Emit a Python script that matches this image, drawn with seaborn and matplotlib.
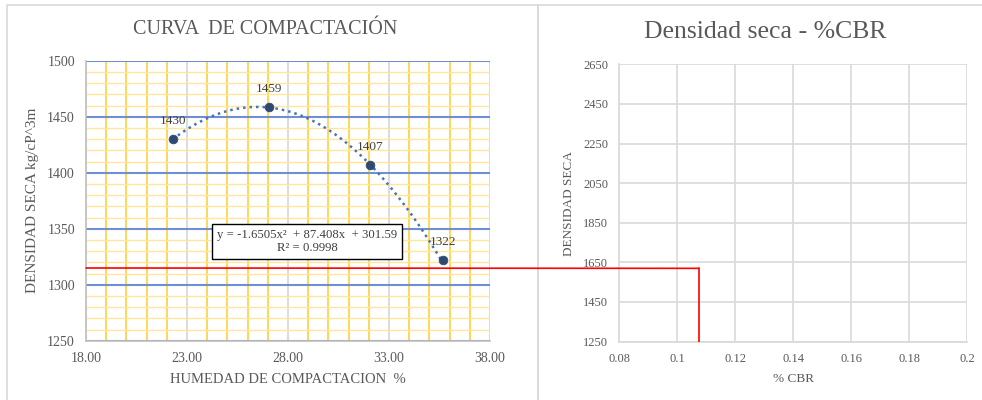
import numpy as np
import pandas as pd
import seaborn as sns
import matplotlib.pyplot as plt
from matplotlib.patches import Rectangle, ConnectionPatch

# compaction test points
humedad = [22.29, 27.07, 32.04, 35.65]
densidad = [1430, 1459, 1407, 1322]
point_labels = ["1430", "1459", "1407", "1322"]

# excel polynomial trendline (order 2)
trend_coefs = [-1.6505, 87.408, 301.59]
trend_text = "y = -1.6505x²  + 87.408x  + 301.59\nR² = 0.9998"

# reading lines drawn by hand over both charts
red_dens_left = 1315
red_dens_right = 1620
red_cbr = 0.1074

x1_ticks = [18, 23, 28, 33, 38]
x1_labels = ["18.00", "23.00", "28.00", "33.00", "38.00"]
y1_ticks = [1250, 1300, 1350, 1400, 1450, 1500]
x2_ticks = [0.08, 0.10, 0.12, 0.14, 0.16, 0.18, 0.20]
x2_labels = ["0.08", "0.1", "0.12", "0.14", "0.16", "0.18", "0.2"]
y2_ticks = [1250, 1450, 1650, 1850, 2050, 2250, 2450, 2650]

sns.set_theme(style="white")
plt.rcParams['font.family'] = ['Liberation Serif', 'DejaVu Serif']

fig = plt.figure(figsize=(9.82, 4), dpi=100)
fig.patch.set_facecolor('white')

# chart panels (excel chart area borders)
fig.add_artist(Rectangle((0.0076, -0.02), 0.540, 1.0075, transform=fig.transFigure,
                         fill=False, edgecolor='#D9D9D9', lw=1.2))
fig.add_artist(Rectangle((0.548, -0.02), 0.47, 1.0075, transform=fig.transFigure,
                         fill=False, edgecolor='#D9D9D9', lw=1.2))

txt = '#595959'

# ---------- left chart ----------
ax1 = fig.add_axes([0.0876, 0.148, 0.4114, 0.700])
ax1.set_xlim(18, 38)
ax1.set_ylim(1250, 1500)
ax1.set_xticks(x1_ticks)
ax1.set_xticklabels(x1_labels)
ax1.set_yticks(y1_ticks)
ax1.set_xticks(np.arange(18, 39, 1), minor=True)
ax1.set_yticks(np.arange(1250, 1501, 10), minor=True)
ax1.grid(which='minor', axis='y', color='#FFE699', lw=1.0)
ax1.grid(which='minor', axis='x', color='#FFD34D', lw=1.3)
ax1.grid(which='major', axis='x', color='#D9D9D9', lw=1.3)
ax1.grid(which='major', axis='y', color='#6F8FD0', lw=1.5)
ax1.set_axisbelow(True)
ax1.tick_params(which='both', length=0)
ax1.tick_params(axis='both', labelsize=10, labelcolor=txt, pad=8)
for s in ['top', 'right']:
    ax1.spines[s].set_visible(False)
for s in ['left', 'bottom']:
    ax1.spines[s].set_color('#BFBFBF')
    ax1.spines[s].set_linewidth(1.2)

xs = np.linspace(min(humedad), max(humedad), 200)
trend = pd.DataFrame({'x': xs, 'y': np.polyval(trend_coefs, xs)})
sns.lineplot(data=trend, x='x', y='y', ax=ax1, color='#4472C4', lw=1.8,
             linestyle=(0, (1, 1.6)), zorder=3)
pts = pd.DataFrame({'humedad': humedad, 'densidad': densidad})
sns.scatterplot(data=pts, x='humedad', y='densidad', ax=ax1, color='#2E4A72',
                s=40, edgecolor='#2E4A72', zorder=4)
for hx, dy, lab in zip(humedad, densidad, point_labels):
    ax1.annotate(lab, (hx, dy), xytext=(0, 13), textcoords='offset points',
                 ha='center', va='center', fontsize=9.5, color='#404040')

ax1.text(28.94, 1338.7, trend_text, ha='center', va='center', fontsize=9.2,
         color='#404040', linespacing=1.2,
         bbox=dict(boxstyle='square,pad=0.35', facecolor='white', edgecolor='black', lw=1.0),
         zorder=5)

ax1.set_xlabel('HUMEDAD DE COMPACTACION  %', fontsize=10.5, color=txt, labelpad=6)
ax1.set_ylabel('DENSIDAD SECA kg/cP^3m', fontsize=11, color=txt, labelpad=6)
fig.text(0.27, 0.925, 'CURVA  DE COMPACTACIÓN', ha='center', va='center',
         fontsize=14.5, color=txt)

# ---------- right chart ----------
ax2 = fig.add_axes([0.6307, 0.146, 0.354, 0.693])
ax2.set_xlim(0.08, 0.20)
ax2.set_ylim(1250, 2650)
ax2.set_xticks(x2_ticks)
ax2.set_xticklabels(x2_labels)
ax2.set_yticks(y2_ticks)
ax2.grid(True, color='#D9D9D9', lw=1.2)
ax2.set_axisbelow(True)
ax2.tick_params(length=0, labelsize=9, labelcolor=txt, pad=8)
for s in ['top', 'right']:
    ax2.spines[s].set_visible(False)
for s in ['left', 'bottom']:
    ax2.spines[s].set_color('#D9D9D9')
    ax2.spines[s].set_linewidth(1.2)
ax2.set_xlabel('% CBR', fontsize=9.5, color=txt, labelpad=6)
ax2.set_ylabel('DENSIDAD SECA', fontsize=9.5, color=txt, labelpad=6)
fig.text(0.779, 0.92, 'Densidad seca - %CBR', ha='center', va='center',
         fontsize=18.5, color=txt)

# red reading lines
con = ConnectionPatch(xyA=(18, red_dens_left), coordsA=ax1.transData,
                      xyB=(red_cbr, red_dens_right), coordsB=ax2.transData,
                      color='red', lw=1.2, zorder=10)
fig.add_artist(con)
ax2.plot([red_cbr, red_cbr], [red_dens_right, 1250], color='red', lw=1.2, zorder=5)

fig.savefig('out.png', dpi=100)
